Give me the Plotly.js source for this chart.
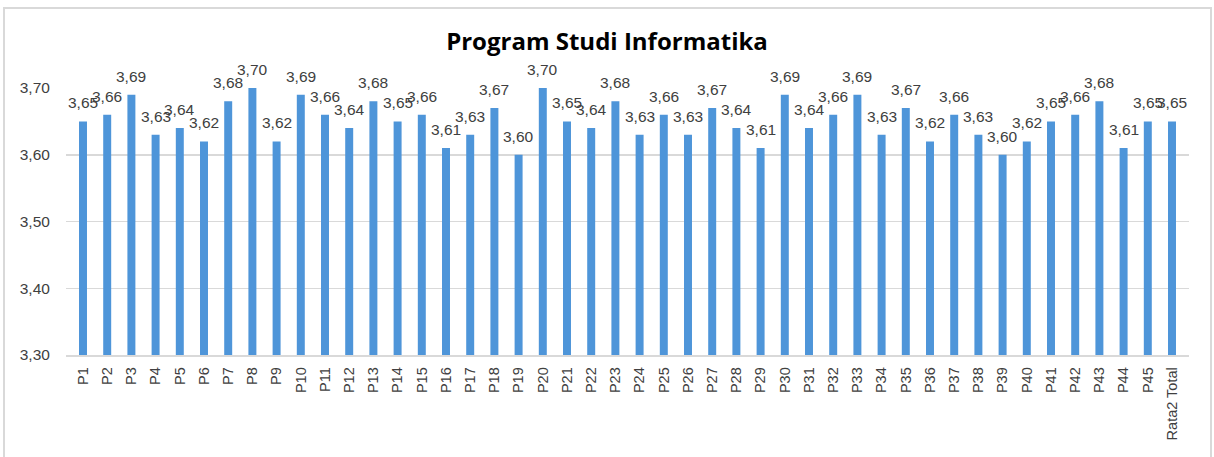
<!DOCTYPE html>
<html>
<head>
<meta charset="utf-8">
<script src="https://cdn.plot.ly/plotly-3.0.1.min.js"></script>
<style>
html,body{margin:0;padding:0;background:#fff;overflow:hidden;}
#chart{width:1214px;height:457px;}
</style>
</head>
<body>
<div id="chart"></div>
<script>
const categories = ["P1","P2","P3","P4","P5","P6","P7","P8","P9","P10",
  "P11","P12","P13","P14","P15","P16","P17","P18","P19","P20",
  "P21","P22","P23","P24","P25","P26","P27","P28","P29","P30",
  "P31","P32","P33","P34","P35","P36","P37","P38","P39","P40",
  "P41","P42","P43","P44","P45","Rata2 Total"];
const values = [3.65,3.66,3.69,3.63,3.64,3.62,3.68,3.70,3.62,3.69,
  3.66,3.64,3.68,3.65,3.66,3.61,3.63,3.67,3.60,3.70,
  3.65,3.64,3.68,3.63,3.66,3.63,3.67,3.64,3.61,3.69,
  3.64,3.66,3.69,3.63,3.67,3.62,3.66,3.63,3.60,3.62,
  3.65,3.66,3.68,3.61,3.65,3.65];
const yTicks = [3.30,3.40,3.50,3.60,3.70];
const yTickText = ["3,30","3,40","3,50","3,60","3,70"];
const titleText = "Program Studi Informatika";

const fmt = v => v.toFixed(2).replace('.', ',');

const W = 1214, H = 457, ml = 66, mr = 25, mt = 88, mb = 102;
const pw = W - ml - mr, ph = H - mt - mb;
const px = x => (x - ml) / pw;
const py = y => (H - mb - y) / ph;

const annotations = categories.map((c, i) => ({
  x: c, y: values[i], xref: 'x', yref: 'y',
  text: fmt(values[i]), showarrow: false,
  yanchor: 'bottom', yshift: 8,
  font: {family: 'Liberation Sans, Arial, sans-serif', size: 15.5, color: '#404040'}
}));

const trace = {
  type: 'bar',
  x: categories,
  y: values,
  marker: {color: '#4E95D9'},
  hoverinfo: 'x+y'
};

const layout = {
  width: W, height: H,
  margin: {l: ml, r: mr, t: mt, b: mb},
  paper_bgcolor: '#ffffff',
  plot_bgcolor: '#ffffff',
  bargap: 0.67,
  showlegend: false,
  title: {
    text: '<b>' + titleText + '</b>',
    x: 0.5, xanchor: 'center', y: 1 - 42 / H, yanchor: 'middle',
    font: {family: 'Open Sans, Noto Sans, sans-serif', size: 24, color: '#000000'}
  },
  xaxis: {
    type: 'category',
    tickangle: -90,
    tickfont: {family: 'Liberation Sans, Arial, sans-serif', size: 14.5, color: '#404040'},
    showgrid: false,
    showline: true, linecolor: '#d9d9d9', linewidth: 1.5,
    ticks: 'outside', ticklen: 5, tickcolor: 'rgba(0,0,0,0)',
    automargin: false
  },
  yaxis: {
    range: [3.30, 3.70],
    tickvals: yTicks,
    ticktext: yTickText,
    tickfont: {family: 'Liberation Sans, Arial, sans-serif', size: 15.5, color: '#404040'},
    showgrid: true, gridcolor: '#d9d9d9', gridwidth: 1.5,
    zeroline: false, showline: false,
    ticks: 'outside', ticklen: 12, tickcolor: 'rgba(0,0,0,0)',
    automargin: false
  },
  annotations: annotations,
  shapes: [{
    type: 'rect', xref: 'paper', yref: 'paper',
    x0: px(4), x1: px(1211), y0: py(480), y1: py(8),
    line: {color: '#d9d9d9', width: 2}, fillcolor: 'rgba(0,0,0,0)', layer: 'below'
  }]
};

Plotly.newPlot('chart', [trace], layout, {displayModeBar: false, staticPlot: true});
</script>
</body>
</html>
